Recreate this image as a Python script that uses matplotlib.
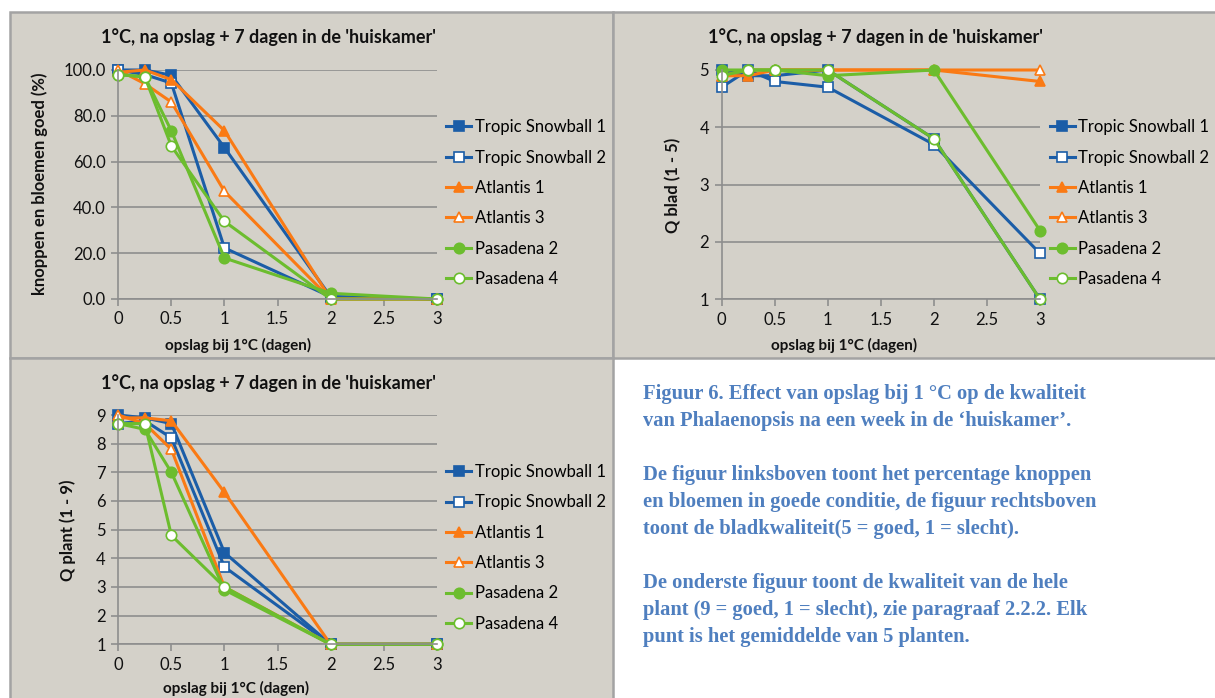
import matplotlib
matplotlib.use("Agg")
import matplotlib.pyplot as plt
from matplotlib.patches import Rectangle

plt.rcParams['font.family'] = ['Lato', 'DejaVu Sans']

# data
dagen = [0, 0.25, 0.5, 1, 2, 3]
namen = ['Tropic Snowball 1', 'Tropic Snowball 2', 'Atlantis 1',
         'Atlantis 3', 'Pasadena 2', 'Pasadena 4']

# knoppen en bloemen goed (%)
knop_ts1 = [100, 100, 97.7, 66.1, 1.0, 0]
knop_ts2 = [100, 98, 94.3, 22.3, 1.0, 0]
knop_at1 = [99, 100, 95.8, 73.5, 0, 0]
knop_at3 = [100, 94, 86, 47, 0, 0]
knop_pa2 = [98, 97, 73.4, 17.9, 2.5, 0]
knop_pa4 = [98, 97, 66.8, 33.9, 0, 0]

# Q blad (1 - 5)
blad_ts1 = [5.0, 4.9, 4.9, 5.0, 3.8, 1.0]
blad_ts2 = [4.7, 5.0, 4.8, 4.7, 3.7, 1.8]
blad_at1 = [4.9, 4.9, 5.0, 5.0, 5.0, 4.8]
blad_at3 = [4.9, 5.0, 5.0, 5.0, 5.0, 5.0]
blad_pa2 = [5.0, 5.0, 5.0, 4.9, 5.0, 2.2]
blad_pa4 = [4.9, 5.0, 5.0, 5.0, 3.8, 1.0]

# Q plant (1 - 9)
plant_ts1 = [9.0, 8.9, 8.7, 4.2, 1, 1]
plant_ts2 = [8.7, 8.8, 8.2, 3.7, 1, 1]
plant_at1 = [8.9, 8.9, 8.8, 6.3, 1, 1]
plant_at3 = [9.0, 8.7, 7.8, 3.0, 1, 1]
plant_pa2 = [8.7, 8.5, 7.0, 2.9, 1, 1]
plant_pa4 = [8.7, 8.7, 4.8, 3.0, 1, 1]

titel = "1°C, na opslag + 7 dagen in de 'huiskamer'"
xlabel = "opslag bij 1°C (dagen)"

bijschrift = ["Figuur 6. Effect van opslag bij 1 °C op de kwaliteit",
              "van Phalaenopsis na een week in de \u2018huiskamer\u2019.",
              "",
              "De figuur linksboven toont het percentage knoppen",
              "en bloemen in goede conditie, de figuur rechtsboven",
              "toont de bladkwaliteit(5 = goed, 1 = slecht).",
              "",
              "De onderste figuur toont de kwaliteit van de hele",
              "plant (9 = goed, 1 = slecht), zie paragraaf 2.2.2. Elk",
              "punt is het gemiddelde van 5 planten."]

blauw = '#1B5DA7'
oranje = '#FA7A14'
groen = '#6CBD2E'
stijlen = [(blauw, 's', True), (blauw, 's', False), (oranje, '^', True),
           (oranje, '^', False), (groen, 'o', True), (groen, 'o', False)]

W, H = 1215, 698
fig = plt.figure(figsize=(W / 100, H / 100), dpi=100)
fig.patch.set_facecolor('white')

bg = '#D4D1C9'
rand = '#A3A3A3'


def box(x0, y0, x1, y1):
    fig.patches.append(Rectangle((x0 / W, 1 - y1 / H), (x1 - x0) / W, (y1 - y0) / H,
                                 transform=fig.transFigure, facecolor=bg,
                                 edgecolor=rand, lw=1.8, zorder=-5))


box(10, 12, 613, 358)
box(613, 12, 1217, 358)
box(10, 358, 613, 700)


def paneel(x0, x1, ytop, ybot, reeksen, ylim, yticks, fmt, ylab, ylab_xy,
           title_xy, xlab_xy, leg_y):
    ax = fig.add_axes([x0 / W, 1 - ybot / H, (x1 - x0) / W, (ybot - ytop) / H])
    ax.set_facecolor('none')
    for vals, naam, (c, m, filled) in zip(reeksen, namen, stijlen):
        ax.plot(dagen, vals, color=c, lw=2.2, marker=m, ms=7.5,
                markerfacecolor=c if filled else 'white',
                markeredgecolor=c, markeredgewidth=1.2, label=naam, clip_on=False)
    ax.set_xlim(0, 3)
    ax.set_ylim(*ylim)
    ax.set_xticks([0, 0.5, 1, 1.5, 2, 2.5, 3])
    ax.set_xticklabels(['0', '0.5', '1', '1.5', '2', '2.5', '3'])
    ax.set_yticks(yticks)
    ax.set_yticklabels([fmt.format(v) for v in yticks])
    ax.grid(axis='y', color='#8E8E8E', lw=1.2)
    ax.set_axisbelow(True)
    for s in ['top', 'right']:
        ax.spines[s].set_visible(False)
    for s in ['left', 'bottom']:
        ax.spines[s].set_color('#8E8E8E')
        ax.spines[s].set_linewidth(1.2)
    ax.tick_params(direction='out', length=5, width=1.2, color='#8E8E8E',
                   labelsize=12, labelcolor='#111111', pad=4)
    fig.text(title_xy[0] / W, 1 - title_xy[1] / H, titel, ha='center', va='center',
             fontsize=13, fontweight='bold', color='#111111')
    fig.text(ylab_xy[0] / W, 1 - ylab_xy[1] / H, ylab, rotation=90,
             ha='center', va='center', fontsize=12, fontweight='bold', color='#111111')
    fig.text(xlab_xy[0] / W, 1 - xlab_xy[1] / H, xlabel, ha='center', va='center',
             fontsize=11, fontweight='bold', color='#111111')
    ax.legend(loc='center left', bbox_to_anchor=(x1 / W + 0.008, 1 - leg_y / H),
              bbox_transform=fig.transFigure, frameon=False,
              fontsize=12, handlelength=1.5, handletextpad=0.2, labelspacing=0.86,
              borderaxespad=0, borderpad=0)
    return ax


paneel(118.3, 436.7, 70, 299,
       [knop_ts1, knop_ts2, knop_at1, knop_at3, knop_pa2, knop_pa4],
       (0, 100), [0, 20, 40, 60, 80, 100], '{:.1f}',
       'knoppen en bloemen goed (%)', (40, 184), (268, 37), (238, 345), 203)

paneel(721.7, 1040, 70, 299.3,
       [blad_ts1, blad_ts2, blad_at1, blad_at3, blad_pa2, blad_pa4],
       (1, 5), [1, 2, 3, 4, 5], '{:.0f}',
       'Q blad (1 - 5)', (673, 185), (875, 37), (844, 345), 203)

paneel(118.3, 436.7, 415, 644.3,
       [plant_ts1, plant_ts2, plant_at1, plant_at3, plant_pa2, plant_pa4],
       (1, 9), [1, 2, 3, 4, 5, 6, 7, 8, 9], '{:.0f}',
       'Q plant (1 - 9)', (68, 530), (268, 383), (236, 688), 548)

y = 394
for regel in bijschrift:
    if regel:
        fig.text(643 / W, 1 - y / H, regel, ha='left', va='center', fontsize=14.8,
                 fontweight='bold', color='#4F7FBF', family='Liberation Serif')
        y += 27
    else:
        y += 27

fig.savefig('out.png', dpi=100)
